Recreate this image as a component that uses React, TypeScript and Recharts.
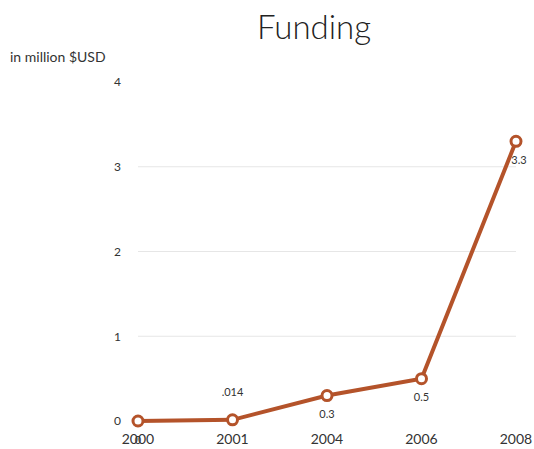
import { LineChart, Line, XAxis, YAxis, CartesianGrid, LabelList } from "recharts";

const years = ["2000", "2001", "2004", "2006", "2008"];
const funding = [0, 0.014, 0.3, 0.5, 3.3];
const pointLabels = ["0", ".014", "0.3", "0.5", "3.3"];
const labelAbove = [false, true, false, false, false];
const yTicks = [0, 1, 2, 3, 4];

const data = years.map((year, i) => ({ year, funding: funding[i], label: pointLabels[i] }));

const LINE_COLOR = "#b4532a";
const FONT = "Lato, 'Open Sans', sans-serif";

function PointLabel(props: any) {
  const { x, y, index, value } = props;
  const above = labelAbove[index];
  return (
    <text
      x={x + (index === years.length - 1 ? 3 : 0)}
      y={above ? y - 28 : y + 18}
      textAnchor="middle"
      dominantBaseline="central"
      fontSize={11}
      fill="#333"
      fontFamily={FONT}
    >
      {value}
    </text>
  );
}

export default function App() {
  return (
    <div
      style={{
        position: "absolute",
        left: 0,
        top: 0,
        width: 534,
        height: 449,
        background: "#fff",
        fontFamily: FONT,
      }}
    >
      <div
        style={{
          position: "absolute",
          left: 214,
          width: 200,
          top: 6,
          textAlign: "center",
          fontSize: 33,
          fontWeight: 300,
          color: "#222",
        }}
      >
        Funding
      </div>
      <div style={{ position: "absolute", left: 10, top: 48, fontSize: 14, color: "#333" }}>
        in million $USD
      </div>
      <LineChart
        width={534}
        height={449}
        data={data}
        margin={{ top: 82, right: 18, bottom: 0, left: 108 }}
      >
        <CartesianGrid horizontal vertical={false} stroke="#e6e6e6" horizontalValues={[1, 2, 3]} />
        <XAxis
          dataKey="year"
          height={28}
          axisLine={false}
          tickLine={false}
          tickMargin={7}
          padding={{ left: 0, right: 0 }}
          tick={{ fontSize: 14, fill: "#333", fontFamily: FONT }}
          interval={0}
        />
        <YAxis
          width={30}
          domain={[0, 4]}
          ticks={yTicks}
          axisLine={false}
          tickLine={false}
          tickMargin={11}
          tick={{ fontSize: 12, fill: "#333", fontFamily: FONT }}
        />
        <Line
          dataKey="funding"
          stroke={LINE_COLOR}
          strokeWidth={4}
          dot={{ r: 5, fill: "#fff", stroke: LINE_COLOR, strokeWidth: 3 }}
          isAnimationActive={false}
        >
          <LabelList dataKey="label" content={<PointLabel />} />
        </Line>
      </LineChart>
    </div>
  );
}
